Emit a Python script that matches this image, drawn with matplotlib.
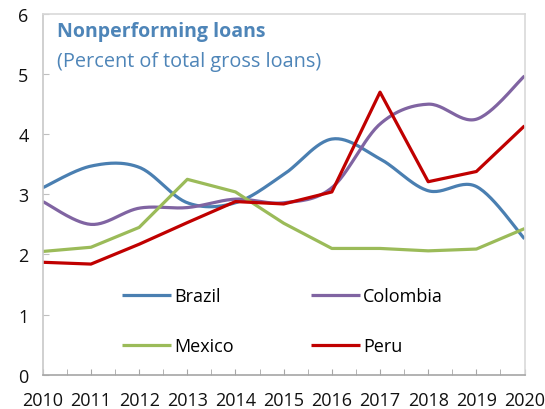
import matplotlib
matplotlib.use("Agg")
import matplotlib.pyplot as plt
import numpy as np

plt.rcParams['font.family'] = ['Open Sans', 'DejaVu Sans']

years = [2010, 2011, 2012, 2013, 2014, 2015, 2016, 2017, 2018, 2019, 2020]
brazil = [3.11, 3.47, 3.45, 2.86, 2.86, 3.33, 3.92, 3.59, 3.06, 3.13, 2.26]
colombia = [2.88, 2.50, 2.77, 2.78, 2.92, 2.86, 3.11, 4.17, 4.50, 4.25, 4.97]
mexico = [2.05, 2.12, 2.45, 3.25, 3.04, 2.52, 2.10, 2.10, 2.06, 2.09, 2.43]
peru = [1.87, 1.84, 2.17, 2.53, 2.88, 2.84, 3.04, 4.70, 3.21, 3.38, 4.14]


def smooth(x, y, n=30):
    # spreadsheet-style smoothed line: cubic bezier through each point,
    # control points taken from the neighbouring points (catmull-rom)
    x = np.asarray(x, float)
    y = np.asarray(y, float)
    px = np.concatenate([[x[0]], x, [x[-1]]])
    py = np.concatenate([[y[0]], y, [y[-1]]])
    t = np.linspace(0, 1, n)[:, None]
    xs, ys = [], []
    for i in range(1, len(px) - 2):
        p0 = np.array([px[i], py[i]])
        p3 = np.array([px[i + 1], py[i + 1]])
        c1 = p0 + (np.array([px[i + 1], py[i + 1]]) - np.array([px[i - 1], py[i - 1]])) / 6
        c2 = p3 - (np.array([px[i + 2], py[i + 2]]) - p0) / 6
        b = ((1 - t) ** 3) * p0 + 3 * ((1 - t) ** 2) * t * c1 + 3 * (1 - t) * t ** 2 * c2 + t ** 3 * p3
        xs.append(b[:, 0])
        ys.append(b[:, 1])
    return np.concatenate(xs), np.concatenate(ys)


fig = plt.figure(figsize=(5.45, 4.10), dpi=100)
ax = fig.add_axes([0.0785, 0.0837, 0.884, 0.8797])

lw = 2.3
bx, by = smooth(years, brazil)
cx, cy = smooth(years, colombia)
l_br, = ax.plot(bx, by, color='#4a7fb1', lw=lw, label='Brazil', solid_capstyle='butt')
l_co, = ax.plot(cx, cy, color='#8064a2', lw=lw, label='Colombia', solid_capstyle='butt')
l_mx, = ax.plot(years, mexico, color='#9bbb59', lw=lw, label='Mexico', solid_capstyle='butt')
l_pe, = ax.plot(years, peru, color='#c00000', lw=lw, label='Peru', solid_capstyle='butt')

ax.set_xlim(2010, 2020)
ax.set_ylim(0, 6)
ax.set_xticks(years)
ax.set_xticks(np.arange(2010.5, 2020, 1), minor=True)
ax.set_yticks(range(0, 7))

ax.tick_params(axis='x', which='both', direction='in', length=4, color='#a6a6a6',
               labelsize=13, pad=12, labelcolor='#111111')
ax.tick_params(axis='y', direction='in', length=4, color='#bfbfbf',
               labelsize=13, pad=14, labelcolor='#111111')
for lab in ax.get_yticklabels():
    lab.set_horizontalalignment('center')

ax.spines['bottom'].set_color('#a6a6a6')
ax.spines['left'].set_color('#c8c8c8')
ax.spines['top'].set_color('#d9d9d9')
ax.spines['right'].set_color('#d9d9d9')
for s in ax.spines.values():
    s.set_linewidth(1.2)

ax.text(0.029, 0.952, 'Nonperforming loans', transform=ax.transAxes, fontsize=14,
        fontweight='bold', color='#4e85b8', va='center')
ax.text(0.029, 0.871, '(Percent of total gross loans)', transform=ax.transAxes,
        fontsize=14.3, color='#4e85b8', va='center')

# legend filled column by column: Brazil/Mexico left, Colombia/Peru right
ax.legend([l_br, l_mx, l_co, l_pe], ['Brazil', 'Mexico', 'Colombia', 'Peru'],
          ncol=2, frameon=False, loc='upper left', bbox_to_anchor=(0.15, 0.262),
          fontsize=13, handlelength=2.7, handletextpad=0.2, columnspacing=4.25,
          labelspacing=1.75, borderaxespad=0)

fig.savefig('out.png', dpi=100)
